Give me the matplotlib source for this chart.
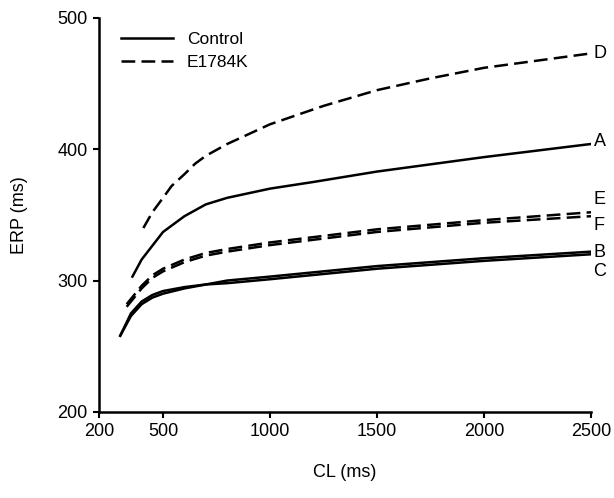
import matplotlib
matplotlib.use("Agg")
import matplotlib.pyplot as plt

plt.rcParams['font.family'] = ['Liberation Sans', 'DejaVu Sans']

# Control curves (solid)
cl_A = [357, 400, 500, 600, 700, 800, 1000, 1200, 1500, 2000, 2500]
erp_A = [303, 316, 337, 349, 358, 363, 370, 375, 383, 394, 404]

cl_B = [300, 350, 400, 450, 500, 600, 700, 800, 1000, 1500, 2000, 2500]
erp_B = [258, 273, 282, 287, 290, 294, 297, 300, 303, 311, 317, 322]

cl_C = [300, 350, 400, 450, 500, 600, 700, 800, 1000, 1500, 2000, 2500]
erp_C = [258, 275, 284, 289, 292, 295, 297, 298, 301, 309, 315, 320]

# E1784K curves (dashed)
cl_D = [408, 450, 500, 540, 600, 650, 700, 800, 1000, 1250, 1500, 1750, 2000, 2500]
erp_D = [340, 352, 363, 372, 381, 389, 395, 404, 419, 433, 445, 454, 462, 473]

cl_E = [330, 400, 450, 500, 600, 700, 800, 1000, 1500, 2000, 2500]
erp_E = [282, 296, 304, 309, 316, 321, 324, 329, 339, 346, 352]

cl_F = [330, 400, 450, 500, 600, 700, 800, 1000, 1500, 2000, 2500]
erp_F = [280, 294, 302, 307, 314, 319, 322, 327, 337, 344, 349]

curve_labels = ["A", "B", "C", "D", "E", "F"]
label_y = [406, 321, 307, 473, 362, 342]

x_ticks = [200, 500, 1000, 1500, 2000, 2500]
y_ticks = [200, 300, 400, 500]

fig = plt.figure(figsize=(6.14, 4.98), dpi=100)
ax = fig.add_axes([0.161, 0.173, 0.8015, 0.791])

lw = 1.8
dash = (5.5, 2.5)
ax.plot(cl_A, erp_A, color='black', lw=lw, label='Control')
ax.plot(cl_B, erp_B, color='black', lw=lw)
ax.plot(cl_C, erp_C, color='black', lw=lw)
ax.plot(cl_D, erp_D, color='black', lw=lw, dashes=dash, label='E1784K')
ax.plot(cl_E, erp_E, color='black', lw=lw, dashes=dash)
ax.plot(cl_F, erp_F, color='black', lw=lw, dashes=dash)

for lab, yv in zip(curve_labels, label_y):
    ax.text(2512, yv, lab, fontsize=13, va='center', ha='left', clip_on=False)

ax.set_xlim(200, 2500)
ax.set_ylim(200, 500)
ax.set_xticks(x_ticks)
ax.set_yticks(y_ticks)
ax.tick_params(direction='out', length=4, width=1.5, labelsize=13, pad=4)
for s in ['top', 'right']:
    ax.spines[s].set_visible(False)
for s in ['left', 'bottom']:
    ax.spines[s].set_linewidth(1.8)

ax.set_xlabel('CL (ms)', fontsize=13, labelpad=17)
ax.set_ylabel('ERP (ms)', fontsize=13, labelpad=21)

leg = ax.legend(loc='upper left', frameon=False, fontsize=12.5,
                handlelength=3.0, handletextpad=0.8, bbox_to_anchor=(0.02, 0.995),
                borderaxespad=0.3, labelspacing=0.45)

fig.savefig('out.png', dpi=100)
